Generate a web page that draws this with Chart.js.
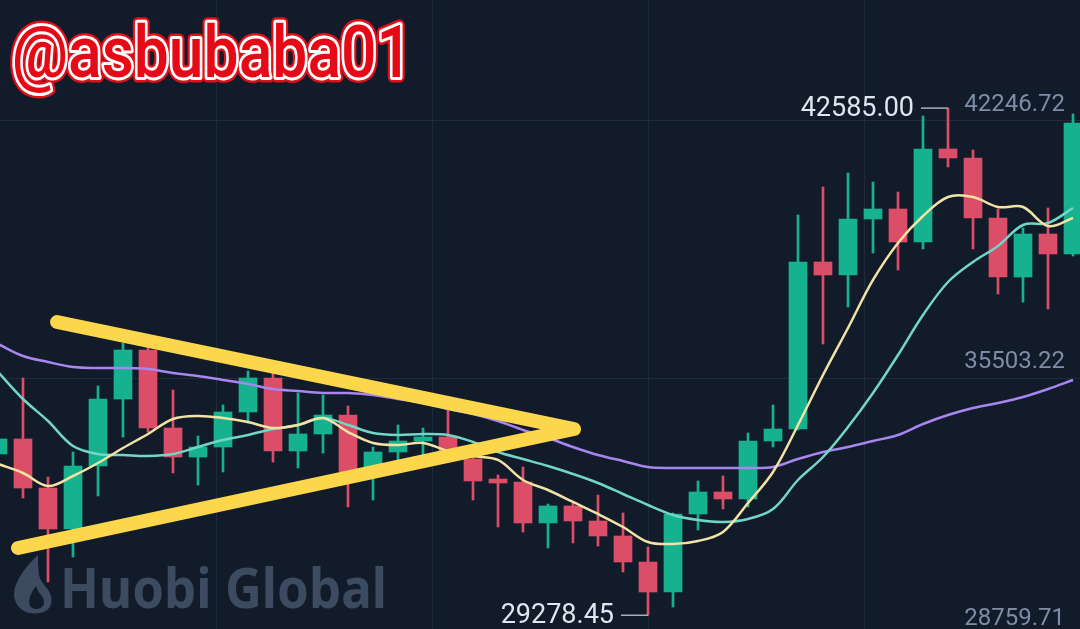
<!DOCTYPE html>
<html>
<head>
<meta charset="utf-8">
<script src="https://cdn.jsdelivr.net/npm/chart.js@4.4.1/dist/chart.umd.min.js"></script>
<style>
  html, body { margin: 0; padding: 0; background: #121b2a; overflow: hidden; }
  canvas { display: block; }
</style>
</head>
<body>
<canvas id="kline" width="1080" height="629"></canvas>
<script>
// Daily candles, oldest first (index = candle position)
const openP  = [33509,33903,32617,31541,33194,34952,36238,34191,33430,33693,34611,35503,33588,34034,34532,33115,33562,33850,33955,33378,32853,32774,31699,32145,31751,31358,30675,29888,31935,32512,32328,33850,34165,38547,38206,39675,39938,39072,41512,41276,39702,38153,39282,38757];
const highP  = [33981,35503,32906,33562,35293,36422,36369,35188,33981,34795,35687,35635,35110,35057,34769,33693,34270,34191,34664,33483,32958,33168,32197,32223,32433,31961,31069,31961,32801,32932,34060,34795,39780,40515,40882,40646,40384,42378,42585.00,41486,39938,39439,39964,42430];
const lowP   = [33404,32355,30151,30807,32407,33955,34086,33011,32696,33037,34323,33299,33142,33535,32118,32302,33299,33430,33457,32302,31594,31463,31043,31174,31095,30413,29278.45,29495,31515,32066,32118,33693,34139,36395,37366,38783,38337,38888,41040,38888,37707,37497,37314,38704];
const closeP = [33903,32617,31541,33194,34952,36238,34191,33430,33693,34611,35503,33588,34034,34532,33037,33562,33850,33955,33562,32801,32748,31699,32145,31751,31358,30675,29888,31935,32512,32328,33850,34165,38547,38206,39675,39938,39072,41512,41276,39702,38153,39282,38757,42194];

// Moving averages
const ma5  = [33247,33011,32669,32932,33273,33667,34034,34428,34506,34454,34349,34191,34270,34454,34086,33798,33745,33798,33588,33457,33352,32827,32565,32250,31935,31594,31200,31148,31226,31463,32223,33037,34270,35582,36815,38075,39046,39754,40253,40253,39990,39990,39492,39702];
const ma10 = [35661,34952,34375,33719,33509,33483,33457,33509,33693,33876,34008,34165,34270,34454,34270,34060,34008,34034,34008,33824,33562,33378,33194,32984,32748,32460,32171,31909,31777,31725,31804,32066,32827,33430,34218,35110,36107,37156,38022,38547,38967,39518,39570,39964];
const ma30 = [36395,36081,35923,35792,35766,35766,35739,35635,35556,35451,35346,35215,35162,35110,35110,35057,34952,34847,34690,34559,34375,34139,33929,33693,33483,33325,33168,33142,33142,33142,33142,33168,33378,33562,33693,33850,34008,34296,34532,34716,34847,35005,35215,35451];

// Axis ticks
const priceTicks = [28759.71, 35503.22, 42246.72];
const timeGrid = [8.72, 17.36, 26.0, 34.64];

// Hand-drawn symmetrical triangle (candle index, price)
const triangleX = [2.36, 23.04, 0.8];
const triangleY = [36973, 34165, 31043];

// Extremes shown with leader lines
const highMark = { index: 38, value: 42585.00, text: '42585.00' };
const lowMark  = { index: 26, value: 29278.45, text: '29278.45' };

const UP = '#16b290', DOWN = '#dc4d68';
const BG = '#121b2a', GRID = '#1f2a3b';

const idx = openP.map((_, i) => i);
const candleColors = idx.map(i => closeP[i] >= openP[i] ? UP : DOWN);
const bodies = idx.map(i => ({ x: i, y: [openP[i], closeP[i]] }));
const wicks  = idx.map(i => ({ x: i, y: [lowP[i], highP[i]] }));
const line = arr => arr.map((v, i) => ({ x: i, y: v }));

// axes draw inside the plot, so they take no room of their own
const noRoom = s => {
  s.paddingTop = 0; s.paddingBottom = 0; s.paddingLeft = 0; s.paddingRight = 0;
  if (s.isHorizontal()) s.height = 0; else s.width = 0;
};

const backgroundPlugin = {
  id: 'bg',
  beforeDraw(chart) {
    const c = chart.ctx;
    c.save(); c.fillStyle = BG; c.fillRect(0, 0, chart.width, chart.height); c.restore();
  }
};

const brandPlugin = {
  id: 'brand',
  beforeDatasetsDraw(chart) {
    const c = chart.ctx;
    c.save();
    c.fillStyle = '#3d4b61';
    // flame logo
    c.beginPath();
    c.moveTo(38, 555);
    c.bezierCurveTo(21, 571, 11, 588, 15, 600);
    c.bezierCurveTo(18, 611, 30, 615, 40, 613);
    c.bezierCurveTo(49, 612, 53, 604, 51, 596);
    c.bezierCurveTo(49, 588, 41, 584, 39, 575);
    c.bezierCurveTo(38, 568, 38, 561, 38, 555);
    c.closePath();
    c.fill();
    c.fillStyle = BG;
    c.beginPath();
    c.moveTo(36, 586);
    c.bezierCurveTo(30, 594, 27, 602, 31, 607);
    c.bezierCurveTo(35, 611, 43, 609, 44, 603);
    c.bezierCurveTo(45, 597, 38, 594, 36, 586);
    c.closePath();
    c.fill();
    // wordmark
    c.fillStyle = '#3d4b61';
    c.font = '700 56px "Noto Sans"';
    c.textBaseline = 'alphabetic';
    const t = 'Huobi Global';
    const w = c.measureText(t).width;
    c.translate(60, 608);
    c.scale(327 / w, 1);
    c.fillText(t, 0, 0);
    c.restore();
  }
};

const extremesPlugin = {
  id: 'extremes',
  afterDatasetsDraw(chart) {
    const c = chart.ctx, xs = chart.scales.x, ys = chart.scales.y;
    [highMark, lowMark].forEach(m => {
      const px = xs.getPixelForValue(m.index), py = ys.getPixelForValue(m.value);
      c.save();
      c.strokeStyle = '#a3adbb'; c.lineWidth = 1.5;
      c.beginPath(); c.moveTo(px, py); c.lineTo(px - 27, py); c.stroke();
      c.fillStyle = '#e1e6ee'; c.font = '27px Roboto';
      c.textAlign = 'right'; c.textBaseline = 'middle';
      c.fillText(m.text, px - 34, py + 1);
      c.restore();
    });
  }
};

const handlePlugin = {
  id: 'handle',
  afterDraw(chart) {
    const c = chart.ctx, t = '@asbubaba01';
    c.save();
    c.font = '500 72px Roboto';
    const w = c.measureText(t).width;
    c.translate(12, 77);
    c.scale(400 / w, 1);
    c.lineJoin = 'round';
    c.strokeStyle = '#e0101a'; c.lineWidth = 11; c.strokeText(t, 0, 0);
    c.strokeStyle = '#ffffff'; c.lineWidth = 6; c.strokeText(t, 0, 0);
    c.fillStyle = '#e60a16'; c.fillText(t, 0, 0);
    c.restore();
  }
};

new Chart(document.getElementById('kline'), {
  type: 'bar',
  data: {
    datasets: [
      { type: 'line', data: triangleX.map((x, i) => ({ x, y: triangleY[i] })), borderColor: '#fcd64b',
        borderWidth: 14, borderCapStyle: 'round', borderJoinStyle: 'round', pointRadius: 0, tension: 0 },
      { type: 'line', data: line(ma5), borderColor: '#f2e2a4', borderWidth: 2.5, pointRadius: 0, tension: 0.35 },
      { type: 'line', data: line(ma10), borderColor: '#72d6c7', borderWidth: 2.5, pointRadius: 0, tension: 0.35 },
      { type: 'line', data: line(ma30), borderColor: '#a985ef', borderWidth: 2.5, pointRadius: 0, tension: 0.35 },
      { data: bodies, backgroundColor: candleColors, borderWidth: 0, barThickness: 18, grouped: false, minBarLength: 2 },
      { data: wicks, backgroundColor: candleColors, borderWidth: 0, barThickness: 2, grouped: false }
    ]
  },
  options: {
    responsive: false,
    animation: false,
    events: [],
    layout: { padding: 0 },
    plugins: { legend: { display: false }, tooltip: { enabled: false } },
    scales: {
      x: {
        type: 'linear', min: 0.08, max: 43.28, offset: false,
        afterBuildTicks: s => { s.ticks = timeGrid.map(v => ({ value: v })); },
        afterFit: noRoom,
        ticks: { display: false },
        grid: { color: GRID, lineWidth: 1, drawTicks: false, offset: false },
        border: { display: false }
      },
      y: {
        type: 'linear', position: 'right', min: 28917.3, max: 45421.6,
        afterBuildTicks: s => { s.ticks = priceTicks.map(v => ({ value: v })); },
        afterFit: noRoom,
        ticks: {
          mirror: true, padding: -15, labelOffset: -16,
          color: '#7e8da5', font: { family: 'Roboto', size: 24 },
          callback: v => Number(v).toFixed(2)
        },
        grid: { color: GRID, lineWidth: 1, drawTicks: false },
        border: { display: false }
      }
    }
  },
  plugins: [backgroundPlugin, brandPlugin, extremesPlugin, handlePlugin]
});
</script>
</body>
</html>
